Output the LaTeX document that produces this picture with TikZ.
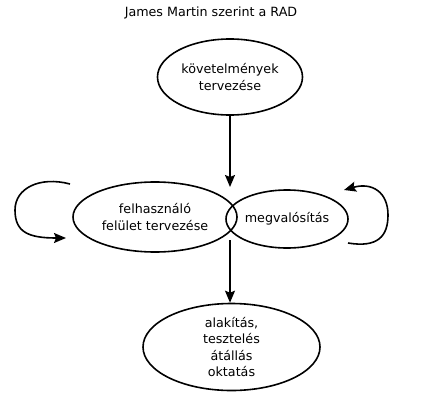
\documentclass[tikz,border=0pt]{standalone}
\usepackage{fontspec}
\setmainfont{DejaVu Sans}
\usetikzlibrary{shapes.geometric,arrows.meta}

\begin{document}
\begin{tikzpicture}[x=1pt,y=-1pt,
  phase/.style={draw, ellipse, line width=1.6pt, inner sep=0pt, align=center,
    font=\fontsize{12.7}{16.5}\selectfont},
  flow/.style={line width=1.6pt, -{Stealth[length=12pt,width=10pt,inset=2pt]}}]
\useasboundingbox (0,0) rectangle (425,412);

% Title
\node[font=\fontsize{12.7}{16.5}\selectfont] (title) at (211,13) {James Martin szerint a RAD};

% Phases
\node[phase, minimum width=145pt, minimum height=76pt] (req) at (230,77) {követelmények\\tervezése};
\node[phase, minimum width=164pt, minimum height=70pt] (ui) at (155,217) {felhasználó\\felület tervezése};
\node[phase, minimum width=122pt, minimum height=58pt] (impl) at (287,219) {megvalósítás};
\node[phase, minimum width=177pt, minimum height=87pt] (cut) at (231.5,347) {alakítás,\\tesztelés\\átállás\\oktatás};

% Arrows between phases
\coordinate (t1) at (230,187);
\coordinate (s2) at (230,240);
\draw[flow] (req.south) -- (t1);
\draw[flow] (s2) -- (cut.north -| s2);

% Iteration loops
\coordinate (l1) at (70,184);
\coordinate (l2) at (66,238);
\draw[flow] (l1) .. controls (40,176) and (15,188) .. (15,210)
  .. controls (15,232) and (28,238) .. (l2);
\coordinate (r1) at (348,243);
\coordinate (r2) at (344,190);
\draw[flow] (r1) .. controls (378,248) and (388,236) .. (388,215)
  .. controls (388,192) and (372,182) .. (r2);
\end{tikzpicture}
\end{document}
